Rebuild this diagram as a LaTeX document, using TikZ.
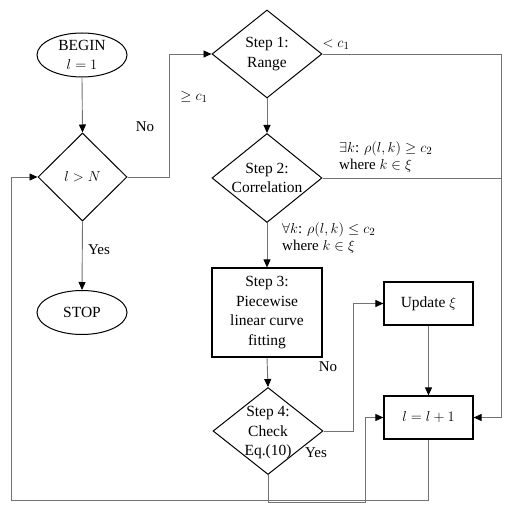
\documentclass[tikz,border=0pt]{standalone}
\usepackage{fontspec}
\setmainfont{Liberation Serif}
\usetikzlibrary{shapes.geometric,arrows.meta}
\begin{document}
\begin{tikzpicture}[x=1pt,y=-1pt,
  every node/.style={font=\fontsize{15.5}{19.5}\selectfont},
  term/.style={ellipse,draw,line width=1pt,minimum width=90pt,minimum height=44pt,inner sep=0pt,align=center},
  dia/.style={diamond,draw,line width=1pt,inner sep=0pt},
  dtext/.style={align=center,inner sep=0pt},
  procbox/.style={rectangle,draw,line width=1.2pt,inner sep=0pt,align=center},
  conn/.style={draw=black!55,line width=0.9pt},
  arr/.style={conn,-{Triangle[length=8pt,width=7pt,color=black]}},
  lbl/.style={inner sep=0pt,font=\fontsize{15}{17}\selectfont}
]
\useasboundingbox (0,0) rectangle (510,510);
\fill[white] (0,0) rectangle (510,510);

% nodes
\node[term] (begin) at (82,55) {BEGIN\\$l=1$};
\node[dia,minimum width=89pt,minimum height=88pt] (cond) at (82.5,177) {};
\node[dtext] (condt) at (cond) {$l>N$};
\node[term] (stop) at (82,312.5) {STOP};

\node[dia,minimum width=110pt,minimum height=88pt] (s1) at (267,54) {};
\node[dtext] (s1t) at (s1) {Step 1:\\Range};
\node[dia,minimum width=110pt,minimum height=89pt] (s2) at (267,178) {};
\node[dtext] (s2t) at (s2) {Step 2:\\Correlation};
\node[procbox,minimum width=110pt,minimum height=89pt] (s3) at (267,312.5) {Step 3:\\Piecewise\\linear curve\\fitting};
\node[dia,minimum width=110pt,minimum height=87pt] (s4) at (268,431) {};
\node[dtext] (s4t) at (268,433) {Step 4:\\Check\\Eq.(10)};

\node[procbox,minimum width=89pt,minimum height=43pt] (upd) at (428.5,303.5) {Update $\xi$};
\node[procbox,minimum width=89pt,minimum height=43pt] (inc) at (428.5,417.5) {$l=l+1$};

% helper coordinates
\coordinate (rt) at (501,417.5);
\coordinate (j1) at (365,502);
\coordinate (lb) at (11,500.5);

% connectors
\draw[arr] (begin.south) -- (cond.north);
\draw[arr] (cond.south) -- (stop.north);
\draw[arr] (cond.east) -- ++(42,0) |- (s1.west);
\draw[arr] (s1.south) -- (s2.north);
\draw[arr] (s2.south) -- (s3.north);
\draw[arr] (s3.south) -- (s4.north);
\draw[arr] (s1.east) -| (rt) -- (inc.east);
\draw[conn] (s2.east) -- (s2.east -| rt);
\draw[arr] (s4.east) -- ++(30,0) |- (upd.west);
\draw[arr] (upd.south) -- (inc.north);
\draw[arr] (s4.south) |- (j1) |- (inc.west);
\draw[arr] (inc.south) |- (lb) |- (cond.west);

% labels
\node[lbl] (lno1) at (145,127) {No};
\node[lbl] (lyes1) at (99,250) {Yes};
\node[lbl] (lge) at (194,97) {$\geq c_1$};
\node[lbl] (llt) at (336,45) {$< c_1$};
\node[lbl,anchor=west,align=left] (lex) at (339,157) {$\exists k$: $\rho(l,k)\geq c_2$\\where $k\in\xi$};
\node[lbl,anchor=west,align=left] (lall) at (282,238) {$\forall k$: $\rho(l,k)\leq c_2$\\where $k\in\xi$};
\node[lbl] (lno2) at (328,367) {No};
\node[lbl] (lyes2) at (316,453) {Yes};
\end{tikzpicture}
\end{document}
